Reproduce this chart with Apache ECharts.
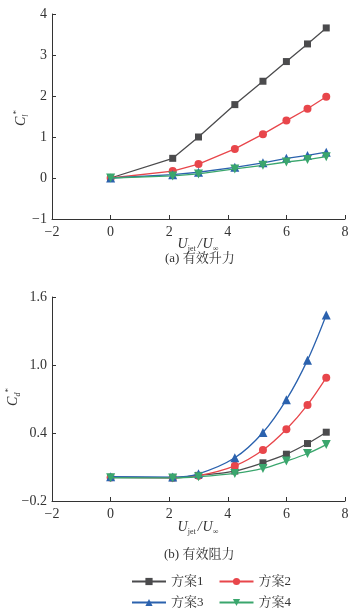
<!DOCTYPE html>
<html>
<head>
<meta charset="utf-8">
<script src="https://cdn.jsdelivr.net/npm/echarts@6/dist/echarts.min.js"></script>
<style>
html,body{margin:0;padding:0;background:#fff;}
#c{width:358px;height:612px;}
</style>
</head>
<body>
<div id="c"></div>
<script>
var seriesNames = ['方案1', '方案2', '方案3', '方案4'];
var xValues = [0, 2.12, 3.0, 4.24, 5.2, 6.0, 6.72, 7.36];

// (a) effective lift Cl*
var lift1 = [0, 0.48, 1.0, 1.79, 2.36, 2.84, 3.27, 3.66];
var lift2 = [0, 0.17, 0.34, 0.71, 1.07, 1.40, 1.69, 1.98];
var lift3 = [0, 0.08, 0.14, 0.26, 0.37, 0.48, 0.55, 0.63];
var lift4 = [0, 0.05, 0.10, 0.22, 0.31, 0.39, 0.45, 0.52];

// (b) effective drag Cd*
var drag1 = [0.008, 0.005, 0.026, 0.064, 0.137, 0.213, 0.307, 0.407];
var drag2 = [0.008, 0.006, 0.023, 0.110, 0.250, 0.433, 0.648, 0.888];
var drag3 = [0.014, 0.011, 0.040, 0.181, 0.404, 0.694, 1.043, 1.442];
var drag4 = [0.005, 0.004, 0.014, 0.043, 0.087, 0.152, 0.219, 0.298];

var xTicks = [-2, 0, 2, 4, 6, 8];
var liftTicks = [-1, 0, 1, 2, 3, 4];
var dragTicks = [-0.2, 0.4, 1.0, 1.6];

var captionA = '(a) 有效升力';
var captionB = '(b) 有效阻力';
var xName = '{u|U}{s|jet}{sl|/}{u|U}{s|∞}';
var yNameA = '{c|C}{s|l}{p|*}';
var yNameB = '{c|C}{s|d}{p|*}';

var colors = ['#4b4b4d', '#e8464b', '#2b62ae', '#3aa66d'];
var symbols = ['rect', 'circle', 'triangle', 'triangle'];
var symbolSizes = [7, 8, 9, 9];
var symbolRotates = [0, 0, 0, 180];

function pairs(ys) { return xValues.map(function (x, i) { return [x, ys[i]]; }); }

var serif = '"Liberation Serif", "Times New Roman", "Noto Serif CJK SC", "Noto Sans CJK SC", serif';
var txtColor = '#333';

var xNameRich = {
  u: { fontFamily: serif, fontStyle: 'italic', fontSize: 14, fill: txtColor, lineHeight: 16, verticalAlign: 'top' },
  s: { fontFamily: serif, fontSize: 8, fill: txtColor, lineHeight: 16, verticalAlign: 'bottom' },
  sl: { fontFamily: serif, fontStyle: 'italic', fontSize: 14, fill: txtColor, lineHeight: 16, verticalAlign: 'top', padding: [0, 1, 0, 2] }
};
var yNameRich = {
  c: { fontFamily: serif, fontStyle: 'italic', fontSize: 14, fill: txtColor, lineHeight: 18, verticalAlign: 'middle' },
  s: { fontFamily: serif, fontStyle: 'italic', fontSize: 8, fill: txtColor, lineHeight: 18, verticalAlign: 'bottom' },
  p: { fontFamily: serif, fontSize: 9, fill: txtColor, lineHeight: 18, verticalAlign: 'top' }
};

function xAxisCfg(idx) {
  return {
    type: 'value', gridIndex: idx, min: -2, max: 8, interval: 2,
    axisLine: { onZero: false, lineStyle: { color: '#333', width: 1 } },
    axisTick: { inside: true, length: 4, lineStyle: { color: '#333' } },
    splitLine: { show: false },
    axisLabel: { fontFamily: serif, fontSize: 14, color: txtColor, margin: 6,
      formatter: function (v) { return String(v).replace('-', '\u2212'); } }
  };
}

function yAxisCfg(idx, min, max, interval, digits) {
  return {
    type: 'value', gridIndex: idx, min: min, max: max, interval: interval,
    axisLine: { show: true, onZero: false, lineStyle: { color: '#333', width: 1 } },
    axisTick: { show: true, inside: true, length: 4, lineStyle: { color: '#333' } },
    splitLine: { show: false },
    axisLabel: { fontFamily: serif, fontSize: 14, color: txtColor, margin: 5,
      formatter: function (v) { return v.toFixed(digits).replace('-', '\u2212'); } }
  };
}

var series = [];
var liftData = [lift1, lift2, lift3, lift4];
var dragData = [drag1, drag2, drag3, drag4];
for (var i = 0; i < 4; i++) {
  series.push({
    name: seriesNames[i], type: 'line', xAxisIndex: 0, yAxisIndex: 0,
    data: pairs(liftData[i]), symbol: symbols[i], symbolSize: symbolSizes[i], symbolRotate: symbolRotates[i],
    showAllSymbol: true, lineStyle: { color: colors[i], width: 1.3 }, itemStyle: { color: colors[i] },
    z: 2 + i
  });
}
for (var j = 0; j < 4; j++) {
  series.push({
    name: seriesNames[j], type: 'line', xAxisIndex: 1, yAxisIndex: 1, smooth: 0.35,
    data: pairs(dragData[j]), symbol: symbols[j], symbolSize: symbolSizes[j], symbolRotate: symbolRotates[j],
    showAllSymbol: true, lineStyle: { color: colors[j], width: 1.3 }, itemStyle: { color: colors[j] },
    z: 2 + j
  });
}

var legendCommon = {
  orient: 'horizontal', itemWidth: 34, itemHeight: 9, itemGap: 15,
  textStyle: { fontFamily: serif, fontSize: 13, color: txtColor },
  selectedMode: false
};

var chart = echarts.init(document.getElementById('c'), null, { renderer: 'canvas' });
chart.setOption({
  animation: false,
  backgroundColor: '#fff',
  grid: [
    { left: 52, top: 14, width: 293, height: 205, containLabel: false, outerBoundsMode: 'none' },
    { left: 52, top: 297, width: 293, height: 204, containLabel: false, outerBoundsMode: 'none' }
  ],
  xAxis: [xAxisCfg(0), xAxisCfg(1)],
  yAxis: [
    yAxisCfg(0, -1, 4, 1, 0),
    yAxisCfg(1, -0.2, 1.6, 0.6, 1)
  ],
  legend: [
    Object.assign({ data: [seriesNames[0], seriesNames[1]], left: 126, top: 570 }, legendCommon),
    Object.assign({ data: [seriesNames[2], seriesNames[3]], left: 126, top: 591 }, legendCommon)
  ],
  graphic: [
    { type: 'text', x: 198, y: 245, style: { text: xName, rich: xNameRich, align: 'center', verticalAlign: 'middle' } },
    { type: 'text', x: 198, y: 528, style: { text: xName, rich: xNameRich, align: 'center', verticalAlign: 'middle' } },
    { type: 'text', x: 21, y: 118, rotation: Math.PI / 2, style: { text: yNameA, rich: yNameRich, align: 'center', verticalAlign: 'middle' } },
    { type: 'text', x: 13, y: 397, rotation: Math.PI / 2, style: { text: yNameB, rich: yNameRich, align: 'center', verticalAlign: 'middle' } },
    { type: 'text', left: 165, top: 252, style: { text: captionA, fontFamily: serif, fontSize: 13, fill: txtColor } },
    { type: 'text', left: 164, top: 548, style: { text: captionB, fontFamily: serif, fontSize: 13, fill: txtColor } }
  ],
  series: series
});
</script>
</body>
</html>
